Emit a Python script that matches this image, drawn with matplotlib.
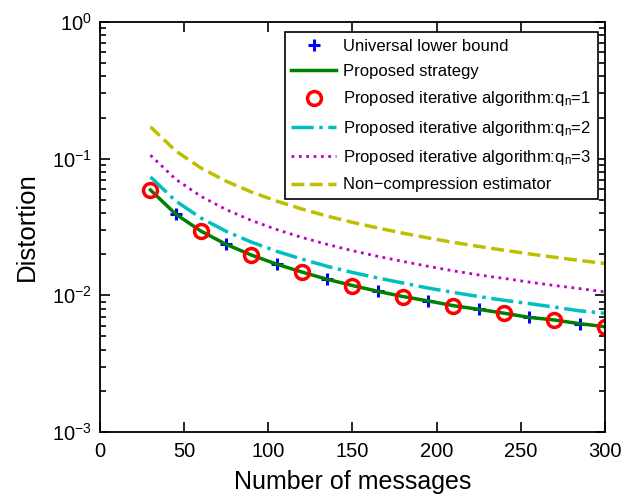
import numpy as np
import matplotlib
matplotlib.use('Agg')
import matplotlib.pyplot as plt

plt.rcParams['font.family'] = ['Liberation Sans', 'DejaVu Sans']
plt.rcParams['mathtext.fontset'] = 'custom'
plt.rcParams['mathtext.rm'] = 'Liberation Sans'
plt.rcParams['mathtext.it'] = 'Liberation Sans'

# data
n_msg = [30, 45, 60, 75, 90, 105, 120, 135, 150, 165, 180, 195,
         210, 225, 240, 255, 270, 285, 300]
lower_bound = [0.059, 0.0393, 0.0295, 0.0236, 0.0197, 0.0169, 0.0148, 0.0131,
               0.0118, 0.0107, 0.0098, 0.0091, 0.0084, 0.0079, 0.0074, 0.0069,
               0.0066, 0.0062, 0.0059]
proposed = [0.059, 0.0393, 0.0295, 0.0236, 0.0197, 0.0169, 0.0148, 0.0131,
            0.0118, 0.0107, 0.0098, 0.0091, 0.0084, 0.0079, 0.0074, 0.0069,
            0.0066, 0.0062, 0.0059]
iter_q1 = [0.059, 0.0393, 0.0295, 0.0236, 0.0197, 0.0169, 0.0148, 0.0131,
           0.0118, 0.0107, 0.0098, 0.0091, 0.0084, 0.0079, 0.0074, 0.0069,
           0.0066, 0.0062, 0.0059]
iter_q2 = [0.0735, 0.049, 0.0368, 0.0294, 0.0245, 0.021, 0.0184, 0.0163,
           0.0147, 0.0134, 0.0123, 0.0113, 0.0105, 0.0098, 0.0092, 0.0087,
           0.0082, 0.0077, 0.0074]
iter_q3 = [0.106, 0.0707, 0.053, 0.0424, 0.0353, 0.0303, 0.0265, 0.0236,
           0.0212, 0.0193, 0.0177, 0.0163, 0.0151, 0.0141, 0.0133, 0.0125,
           0.0118, 0.0112, 0.0106]
non_comp = [0.171, 0.114, 0.0855, 0.0684, 0.057, 0.0489, 0.0428, 0.038,
            0.0342, 0.0311, 0.0285, 0.0263, 0.0244, 0.0228, 0.0214, 0.0201,
            0.019, 0.018, 0.0171]

n_msg = np.array(n_msg)

fig = plt.figure(figsize=(6.38, 4.97), dpi=100)
ax = fig.add_axes([0.1567, 0.1308, 0.7915, 0.8249])

ax.plot(n_msg[1::2], lower_bound[1::2], 'b+', markersize=8, markeredgewidth=2.2,
        label='Universal lower bound')
ax.plot(n_msg, proposed, '-', color='#007f00', linewidth=2.5,
        label='Proposed strategy')
ax.plot(n_msg[::2], iter_q1[::2], 'o', color='r', markerfacecolor='none',
        markersize=10, markeredgewidth=2.5,
        label='Proposed iterative algorithm:q$_\\mathregular{n}$=1')
ax.plot(n_msg, iter_q2, '-.', color='#00bfbf', linewidth=2.5,
        label='Proposed iterative algorithm:q$_\\mathregular{n}$=2')
ax.plot(n_msg, iter_q3, ':', color='#bf00bf', linewidth=2,
        label='Proposed iterative algorithm:q$_\\mathregular{n}$=3')
ax.plot(n_msg, non_comp, '--', color='#bfbf00', linewidth=2.5,
        label='Non\u2212compression estimator')

ax.set_yscale('log')
ax.set_xlim(0, 300)
ax.set_ylim(1e-3, 1)
ax.set_xticks([0, 50, 100, 150, 200, 250, 300])
ax.tick_params(which='both', direction='in', top=True, right=True,
               labelsize=14.5, width=1.2)
ax.tick_params(axis='x', pad=7.5)
ax.tick_params(axis='y', pad=6)
ax.tick_params(which='major', length=7)
ax.tick_params(which='minor', length=4)
for s in ax.spines.values():
    s.set_linewidth(1.3)

ax.set_xlabel('Number of messages', fontsize=18, labelpad=6)
ax.set_ylabel('Distortion', fontsize=18.5, labelpad=9)

leg = ax.legend(loc='upper right', bbox_to_anchor=(598 / 638, 465 / 497),
                bbox_transform=fig.transFigure, borderaxespad=0,
                fontsize=12, fancybox=False, edgecolor='black', framealpha=1,
                handlelength=2.7, handletextpad=0.4, labelspacing=0.62)
leg.get_frame().set_linewidth(1.2)

fig.savefig('out.png', dpi=100)
